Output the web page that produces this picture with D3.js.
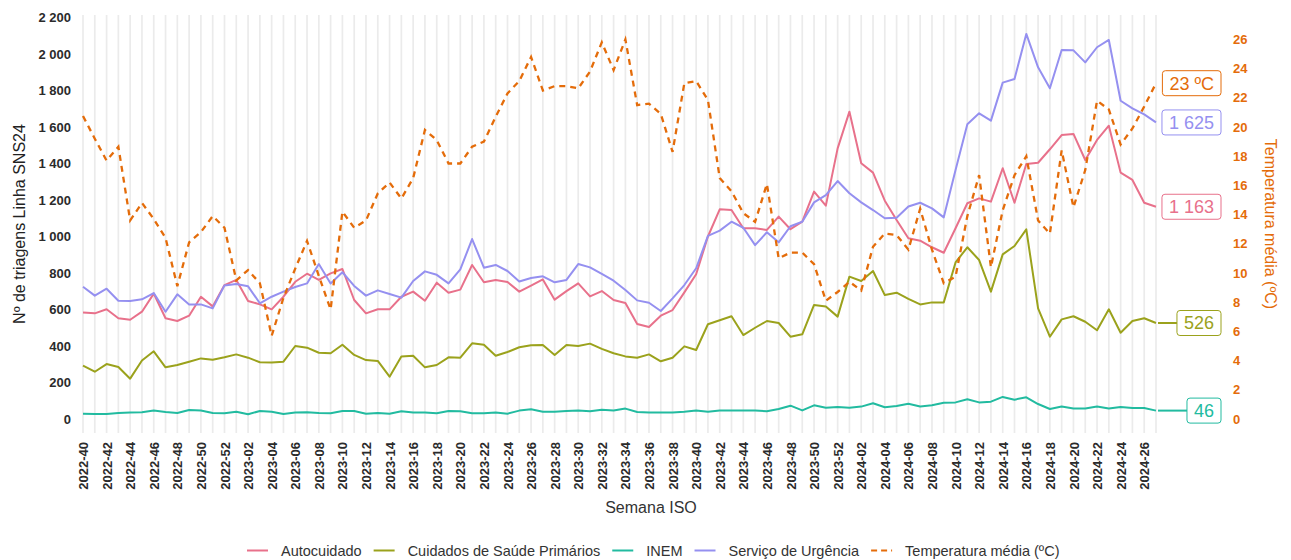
<!DOCTYPE html>
<html><head><meta charset="utf-8">
<script src="https://cdn.jsdelivr.net/npm/d3@7"></script>
<style>body{margin:0;background:#fff} svg{display:block} text{font-family:"Liberation Sans",Arial,Helvetica,sans-serif}</style>
</head><body><svg id="c" width="1291" height="560"></svg>
<script>
const weeks = ["2022-40","2022-41","2022-42","2022-43","2022-44","2022-45","2022-46","2022-47","2022-48","2022-49","2022-50","2022-51","2022-52",
"2023-01","2023-02","2023-03","2023-04","2023-05","2023-06","2023-07","2023-08","2023-09","2023-10","2023-11","2023-12","2023-13","2023-14","2023-15","2023-16","2023-17","2023-18","2023-19","2023-20","2023-21","2023-22","2023-23","2023-24","2023-25","2023-26","2023-27","2023-28","2023-29","2023-30","2023-31","2023-32","2023-33","2023-34","2023-35","2023-36","2023-37","2023-38","2023-39","2023-40","2023-41","2023-42","2023-43","2023-44","2023-45","2023-46","2023-47","2023-48","2023-49","2023-50","2023-51","2023-52",
"2024-01","2024-02","2024-03","2024-04","2024-05","2024-06","2024-07","2024-08","2024-09","2024-10","2024-11","2024-12","2024-13","2024-14","2024-15","2024-16","2024-17","2024-18","2024-19","2024-20","2024-21","2024-22","2024-23","2024-24","2024-25","2024-26","2024-27"];

const autocuidado = [584,579,601,552,544,588,687,552,537,566,
670,617,734,762,647,628,601,670,752,796,
762,798,822,652,579,601,601,670,698,648,
747,692,709,844,749,762,751,698,731,765,
654,701,743,672,701,652,636,521,504,566,
597,694,793,1000,1149,1145,1045,1045,1036,1109,
1040,1081,1246,1169,1483,1684,1401,1350,1196,1090,
990,977,941,911,1045,1182,1209,1191,1374,1185,
1397,1404,1478,1556,1562,1419,1529,1607,1350,1310,
1185,1163];

const cuidadosPrimarios = [292,259,301,285,221,321,371,283,296,314,
332,325,338,354,336,311,309,314,400,391,
363,360,407,351,323,318,232,342,347,283,
296,338,336,415,407,347,367,393,404,405,
351,405,400,413,384,360,343,336,354,316,
336,398,378,519,541,563,460,500,537,526,
451,464,625,616,561,780,756,811,679,692,
658,628,639,639,858,941,871,698,902,948,
1039,606,451,546,563,533,486,601,473,537,
552,526];

const inem = [29,27,27,33,35,37,46,38,33,49,
46,33,31,40,26,44,40,27,35,37,
33,31,44,44,29,33,29,42,35,35,
31,44,42,31,31,35,29,46,53,40,
40,44,46,42,51,46,57,38,35,35,
35,40,47,40,46,46,47,47,42,55,
73,47,75,62,66,62,68,86,64,71,
84,69,75,89,91,108,91,95,121,106,
119,82,55,69,58,58,68,57,66,60,
60,46];

const urgencia = [725,676,714,648,647,656,690,588,683,628,
628,606,732,740,727,634,670,698,723,743,
849,743,804,729,676,705,685,665,756,809,
790,743,820,986,829,844,811,753,773,782,
749,762,849,831,795,758,707,650,637,592,
661,734,826,1003,1032,1081,1048,953,1023,968,
1056,1081,1187,1227,1304,1237,1187,1145,1100,1103,
1164,1185,1154,1105,1364,1615,1675,1635,1843,1863,
2110,1927,1812,2022,2020,1954,2037,2077,1744,1702,
1669,1625];

const temperatura = [20.75,19.2,17.7,18.65,13.6,14.8,13.7,12.4,9.1,12.1,
12.8,13.9,13.1,9.5,10.2,9.3,5.7,8.3,10.3,12.2,
9.8,7.5,14.2,13.1,13.6,15.45,16.2,15.1,16.5,19.8,
19.1,17.5,17.5,18.65,19.0,20.7,22.3,23.15,24.8,22.5,
22.8,22.8,22.65,23.8,25.8,23.9,26.0,21.5,21.6,20.9,
18.3,23.0,23.15,21.85,16.5,15.6,14.1,13.5,16.1,11.0,
11.4,11.4,10.6,8.1,8.7,9.4,8.8,11.8,12.7,12.6,
11.6,14.4,11.6,9.3,9.75,13.9,16.7,10.4,14.3,16.7,
18.0,13.6,12.7,18.4,14.5,17.05,21.8,21.2,18.8,19.9,
21.4,23.0];

const seriesNames = ["Autocuidado","Cuidados de Saúde Primários","INEM","Serviço de Urgência","Temperatura média (ºC)"];
const seriesColors = ["#E8718B","#9BA21C","#22BBA0","#9590F0","#E46C0A"];
const leftTicks = [0,200,400,600,800,1000,1200,1400,1600,1800,2000,2200];
const rightTicks = [0,2,4,6,8,10,12,14,16,18,20,22,24,26];
const xTickLabels = weeks.filter((w,i)=>i%2===0);

const svg = d3.select("#c");
const loc = d3.formatLocale({decimal:",",thousands:"\u00a0",grouping:[3],currency:["",""]});
const fmt = loc.format(",d");

const x = d3.scalePoint().domain(weeks).range([83,1156]);
const y = d3.scaleLinear().domain([0,2200]).range([419,17.5]);
const yT = d3.scaleLinear().domain([0,27.5]).range([419,17.5]);

// vertical gridlines
svg.append("g").selectAll("line").data(weeks).join("line")
  .attr("x1",d=>x(d)).attr("x2",d=>x(d)).attr("y1",15).attr("y2",433)
  .attr("stroke","#ebebeb").attr("stroke-width",1.7);

// left axis
const ga = svg.append("g").attr("transform","translate(83,0)")
  .call(d3.axisLeft(y).tickValues(leftTicks).tickSize(0).tickPadding(12).tickFormat(fmt));
ga.select(".domain").remove();
ga.selectAll("text").attr("font-size",13).attr("font-weight","bold").attr("fill","#2b2b2b").style("font-family","'Liberation Sans',Arial,sans-serif");

// right axis
const gr = svg.append("g").attr("transform","translate(1233,0)")
  .call(d3.axisRight(yT).tickValues(rightTicks).tickSize(0).tickPadding(0));
gr.select(".domain").remove();
gr.selectAll("text").attr("font-size",13).attr("font-weight","bold").attr("fill","#E46C0A").style("font-family","'Liberation Sans',Arial,sans-serif");

// x axis
const gx = svg.append("g").attr("transform","translate(0,433)")
  .call(d3.axisBottom(x).tickValues(xTickLabels).tickSize(0));
gx.select(".domain").remove();
gx.selectAll("text").attr("transform","rotate(-90)").attr("x",-9).attr("y",0).attr("dy","0.35em")
  .style("text-anchor","end").attr("font-size",13).attr("font-weight","bold").attr("fill","#2b2b2b")
  .style("font-family","'Liberation Sans',Arial,sans-serif");

// titles
svg.append("text").attr("transform","translate(25,224) rotate(-90)").attr("text-anchor","middle")
  .attr("font-size",16).attr("fill","#222").text("Nº de triagens Linha SNS24");
svg.append("text").attr("transform","translate(1265,224) rotate(90)").attr("text-anchor","middle")
  .attr("font-size",16).attr("fill","#E46C0A").text("Temperatura média (ºC)");
svg.append("text").attr("x",651).attr("y",513).attr("text-anchor","middle")
  .attr("font-size",16).attr("fill","#333").text("Semana ISO");

// lines
const data = [autocuidado,cuidadosPrimarios,inem,urgencia];
const line = d3.line().x((d,i)=>x(weeks[i])).y(d=>y(d));
data.forEach((s,k)=>{
  svg.append("path").datum(s).attr("d",line).attr("fill","none")
    .attr("stroke",seriesColors[k]).attr("stroke-width",2).attr("stroke-linejoin","round");
});
const lineT = d3.line().x((d,i)=>x(weeks[i])).y(d=>yT(d));
svg.append("path").datum(temperatura).attr("d",lineT).attr("fill","none")
  .attr("stroke",seriesColors[4]).attr("stroke-width",2.3).attr("stroke-dasharray","6,5");

// end labels
const last = weeks[weeks.length-1];
const labels = [
  {v:temperatura[temperatura.length-1], yy:yT(temperatura[temperatura.length-1]), t:temperatura[temperatura.length-1]+" ºC", c:seriesColors[4], seg:false},
  {v:urgencia[urgencia.length-1], yy:y(urgencia[urgencia.length-1]), t:fmt(urgencia[urgencia.length-1]), c:seriesColors[3], seg:true},
  {v:autocuidado[autocuidado.length-1], yy:y(autocuidado[autocuidado.length-1]), t:fmt(autocuidado[autocuidado.length-1]), c:seriesColors[0], seg:true},
  {v:cuidadosPrimarios[cuidadosPrimarios.length-1], yy:y(cuidadosPrimarios[cuidadosPrimarios.length-1]), t:fmt(cuidadosPrimarios[cuidadosPrimarios.length-1]), c:seriesColors[1], seg:true},
  {v:inem[inem.length-1], yy:y(inem[inem.length-1]), t:fmt(inem[inem.length-1]), c:seriesColors[2], seg:true}
];
labels.forEach(L=>{
  const g = svg.append("g");
  const rect = g.append("rect");
  const tx = g.append("text").attr("x",1214).attr("y",L.yy).attr("dy","0.35em").attr("text-anchor","end")
    .attr("font-size",18).attr("fill",L.c).text(L.t);
  const w = tx.node().getComputedTextLength();
  const left = 1214 - w - 7;
  rect.attr("x",left).attr("y",L.yy-12.5).attr("width",1221-left).attr("height",25).attr("rx",3)
    .attr("fill","#fff").attr("stroke",L.c).attr("stroke-width",1);
  if (L.seg && left - (x(last)+2) > 4) {
    svg.append("line").attr("x1",x(last)+2).attr("x2",left).attr("y1",L.yy).attr("y2",L.yy)
      .attr("stroke",L.c).attr("stroke-width",2);
  }
});

// legend
const lg = svg.append("g");
let cx = 247;
seriesNames.forEach((n,k)=>{
  lg.append("line").attr("x1",cx).attr("x2",cx+21).attr("y1",550.5).attr("y2",550.5)
    .attr("stroke",seriesColors[k]).attr("stroke-width",2)
    .attr("stroke-dasharray",k===4?"6,4":null);
  const t = lg.append("text").attr("x",cx+34).attr("y",551).attr("dy","0.35em")
    .attr("font-size",14.5).attr("fill","#333").text(n);
  cx = cx + 34 + t.node().getComputedTextLength() + 12;
});
</script></body></html>
